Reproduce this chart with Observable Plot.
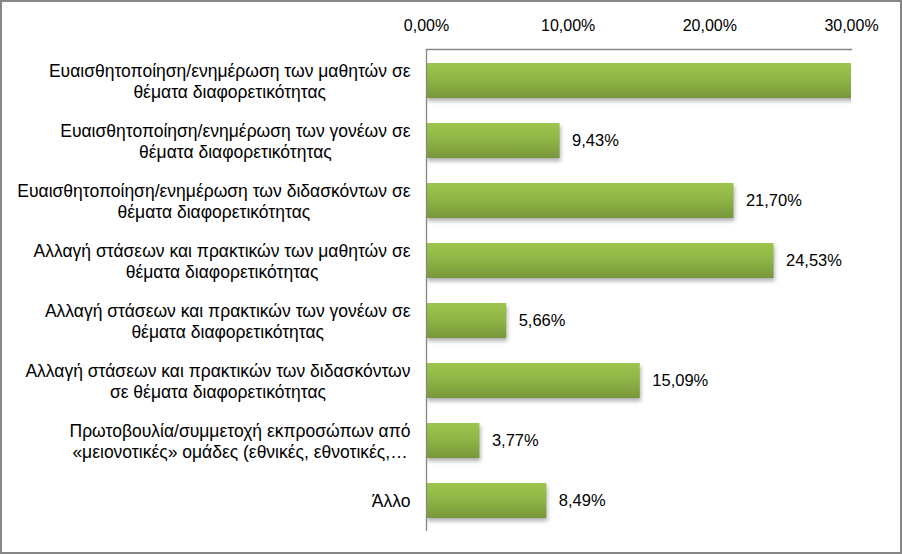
<!DOCTYPE html>
<html>
<head>
<meta charset="utf-8">
<script src="https://cdn.jsdelivr.net/npm/d3@7"></script>
<script src="https://cdn.jsdelivr.net/npm/@observablehq/plot@0.6"></script>
<style>
  html, body { margin: 0; padding: 0; background: #fff; }
  #chart { position: relative; width: 902px; height: 554px; box-sizing: border-box; border: 2px solid #868686; background: #fff; overflow: hidden; }
  #chart svg { display: block; }
  #chart svg g[aria-label="bar"] { filter: drop-shadow(1px 3px 2px rgba(0,0,0,0.32)); }
</style>
</head>
<body>
<div id="chart"></div>
<script>
const categories = [
  "Ευαισθητοποίηση/ενημέρωση των μαθητών σε\nθέματα διαφορετικότητας",
  "Ευαισθητοποίηση/ενημέρωση των γονέων σε\nθέματα διαφορετικότητας",
  "Ευαισθητοποίηση/ενημέρωση των διδασκόντων σε\nθέματα διαφορετικότητας",
  "Αλλαγή στάσεων και πρακτικών των μαθητών σε\nθέματα διαφορετικότητας",
  "Αλλαγή στάσεων και πρακτικών των γονέων σε\nθέματα διαφορετικότητας",
  "Αλλαγή στάσεων και πρακτικών των διδασκόντων\nσε θέματα διαφορετικότητας",
  "Πρωτοβουλία/συμμετοχή εκπροσώπων από\n«μειονοτικές» ομάδες (εθνικές, εθνοτικές,…",
  "Άλλο"
];
const values = [33.02, 9.43, 21.70, 24.53, 5.66, 15.09, 3.77, 8.49];
const xTicks = [0, 10, 20, 30];
const xMax = 30;

const data = categories.map((c, i) => ({category: c, value: values[i]}));
const fmt = d => d.toFixed(2).replace(".", ",") + "%";

const font = "'Liberation Sans', Arial, sans-serif";
const chart = Plot.plot({
  width: 898,
  height: 550,
  marginLeft: 424,
  marginRight: 49,
  marginTop: 47,
  marginBottom: 21,
  style: { fontFamily: font, fontSize: "16px", color: "#000", background: "#fff" },
  x: { domain: [0, xMax], axis: null, label: null },
  y: { domain: categories, paddingInner: 0.42, paddingOuter: 0.21, axis: null, label: null },
  marks: [
    Plot.barX(data, { x: "value", y: "category", fill: "url(#barGrad)", clip: true }),
    Plot.text(data, { filter: d => d.value <= xMax, x: "value", y: "category", text: d => fmt(d.value), textAnchor: "start", dx: 12, fontSize: 16.5, fill: "#000" }),
    Plot.ruleX([0], { stroke: "#868686", strokeWidth: 1.3 }),
    Plot.frame({ anchor: "top", stroke: "#868686", strokeWidth: 1.3 }),
    Plot.axisX({ anchor: "top", ticks: xTicks, tickFormat: fmt, tickSize: 0, tickPadding: 19, fontSize: 16, fill: "#000", label: null }),
    Plot.axisY({ anchor: "left", tickSize: 0, tickPadding: 16, fontSize: 17.5, fill: "#000", lineHeight: 1.15, textAnchor: "end", label: null })
  ]
});

// gradient for bars
const ns = "http://www.w3.org/2000/svg";
const defs = document.createElementNS(ns, "defs");
defs.innerHTML = '<linearGradient id="barGrad" x1="0" y1="0" x2="0" y2="1">' +
  '<stop offset="0" stop-color="#9dc64c"/>' +
  '<stop offset="0.5" stop-color="#8eb345"/>' +
  '<stop offset="1" stop-color="#77973a"/></linearGradient>';
chart.insertBefore(defs, chart.firstChild);

document.getElementById("chart").appendChild(chart);

// center the lines of each y-axis label within its right-aligned block
chart.querySelectorAll('g[aria-label="y-axis tick label"] text').forEach(t => {
  const spans = t.querySelectorAll("tspan");
  let w = 0;
  if (spans.length) spans.forEach(s => { w = Math.max(w, s.getComputedTextLength()); });
  else w = t.getComputedTextLength();
  t.setAttribute("text-anchor", "middle");
  if (spans.length) spans.forEach(s => s.setAttribute("x", -w / 2));
  else t.setAttribute("x", (+t.getAttribute("x") || 0) - w / 2);
});
</script>
</body>
</html>
